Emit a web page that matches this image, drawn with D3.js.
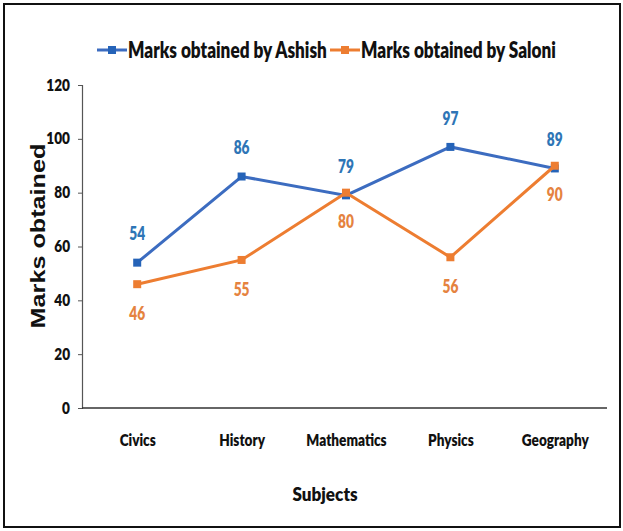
<!DOCTYPE html>
<html>
<head>
<meta charset="utf-8">
<script src="https://cdn.jsdelivr.net/npm/d3@7"></script>
<style>
  html, body { margin: 0; padding: 0; background: #fff; }
  svg { display: block; }
  .cal { font-family: Lato, "Open Sans", sans-serif; font-weight: 800; }
</style>
</head>
<body>
<svg id="chart" width="623" height="531"></svg>
<script>
// Marks per subject for the two students
const subjects = ["Civics", "History", "Mathematics", "Physics", "Geography"];
const ashishMarks = [54, 86, 79, 97, 89];
const saloniMarks = [46, 55, 80, 56, 90];
const yTicks = [0, 20, 40, 60, 80, 100, 120];

const series = [
  { name: "Marks obtained by Ashish", values: ashishMarks, line: "#3c6cc0", marker: "#2563b8", label: "#2e75b6", labelDy: -29 },
  { name: "Marks obtained by Saloni", values: saloniMarks, line: "#ed7d31", marker: "#ed7d31", label: "#e5833f", labelDy: 29 }
];

// condensed look: squeeze text horizontally around its own anchor
function squeeze(sel, sx) {
  sel.each(function () {
    const t = d3.select(this);
    const x0 = +t.attr("x") || 0;
    t.attr("x", x0 / sx).attr("transform", `scale(${sx},1)`);
  });
}

const svg = d3.select("#chart");

// outer frame
svg.append("rect")
  .attr("x", 4).attr("y", 4).attr("width", 616).attr("height", 523)
  .attr("fill", "none").attr("stroke", "#111").attr("stroke-width", 2);

const plot = { left: 82, right: 607, top: 85, bottom: 408 };

const x = d3.scalePoint().domain(subjects).range([plot.left + 3, plot.right]).padding(0.5);
const y = d3.scaleLinear().domain([0, 120]).range([plot.bottom, plot.top]);

// y axis
const yAxis = svg.append("g")
  .attr("transform", `translate(${plot.left},0)`)
  .call(d3.axisLeft(y).tickValues(yTicks).tickSize(4).tickPadding(8));
yAxis.select(".domain").attr("stroke", "#555").attr("stroke-width", 1.2);
yAxis.selectAll(".tick line").attr("stroke", "#555");
yAxis.selectAll(".tick text")
  .attr("class", "cal")
  .attr("fill", "#111")
  .style("font-size", "16px")
  .call(squeeze, 0.85);

// x axis
const xAxis = svg.append("g")
  .attr("transform", `translate(0,${plot.bottom})`)
  .call(d3.axisBottom(x).tickSize(0).tickPadding(26));
xAxis.select(".domain").remove();
xAxis.append("line")
  .attr("x1", plot.left).attr("x2", plot.right)
  .attr("stroke", "#333").attr("stroke-width", 1.5);
xAxis.selectAll(".tick text")
  .attr("class", "cal")
  .attr("fill", "#111")
  .style("font-size", "17px")
  .call(squeeze, 0.8);

// axis titles
svg.append("text")
  .attr("transform", "translate(45,236) rotate(-90) scale(1.2,1)")
  .attr("text-anchor", "middle")
  .style("font-family", "'Liberation Sans', Arial, sans-serif")
  .style("font-weight", "bold")
  .style("font-size", "21px")
  .attr("fill", "#111")
  .text("Marks obtained");

svg.append("text")
  .attr("class", "cal")
  .attr("x", 325).attr("y", 501)
  .attr("text-anchor", "middle")
  .style("font-size", "19px")
  .attr("fill", "#111")
  .text("Subjects")
  .call(squeeze, 0.9);

// series lines, markers and value labels
const line = d3.line().x((d, i) => x(subjects[i])).y(d => y(d));

series.forEach(s => {
  const g = svg.append("g");
  g.append("path")
    .datum(s.values)
    .attr("d", line)
    .attr("fill", "none")
    .attr("stroke", s.line)
    .attr("stroke-width", 3);
  g.selectAll("rect")
    .data(s.values)
    .join("rect")
    .attr("x", (d, i) => x(subjects[i]) - 4)
    .attr("y", d => y(d) - 4)
    .attr("width", 8).attr("height", 8)
    .attr("fill", s.marker);
  g.selectAll("text")
    .data(s.values)
    .join("text")
    .attr("class", "cal")
    .attr("x", (d, i) => x(subjects[i]))
    .attr("y", d => y(d) + s.labelDy)
    .attr("dy", "0.35em")
    .attr("text-anchor", "middle")
    .style("font-size", "19px")
    .attr("fill", s.label)
    .text(d => d)
    .call(squeeze, 0.72);
});

// legend
const legendX = [97, 330];
series.forEach((s, i) => {
  const lg = svg.append("g").attr("transform", `translate(${legendX[i]},50)`);
  lg.append("line").attr("x1", 0).attr("x2", 30).attr("y1", 0).attr("y2", 0)
    .attr("stroke", s.line).attr("stroke-width", 3);
  lg.append("rect").attr("x", 11).attr("y", -4).attr("width", 8).attr("height", 8)
    .attr("fill", s.marker);
  lg.append("text")
    .attr("class", "cal")
    .attr("x", 31).attr("y", 0).attr("dy", "0.36em")
    .style("font-size", "22px")
    .attr("fill", "#111")
    .text(s.name)
    .call(squeeze, 0.78);
});
</script>
</body>
</html>
